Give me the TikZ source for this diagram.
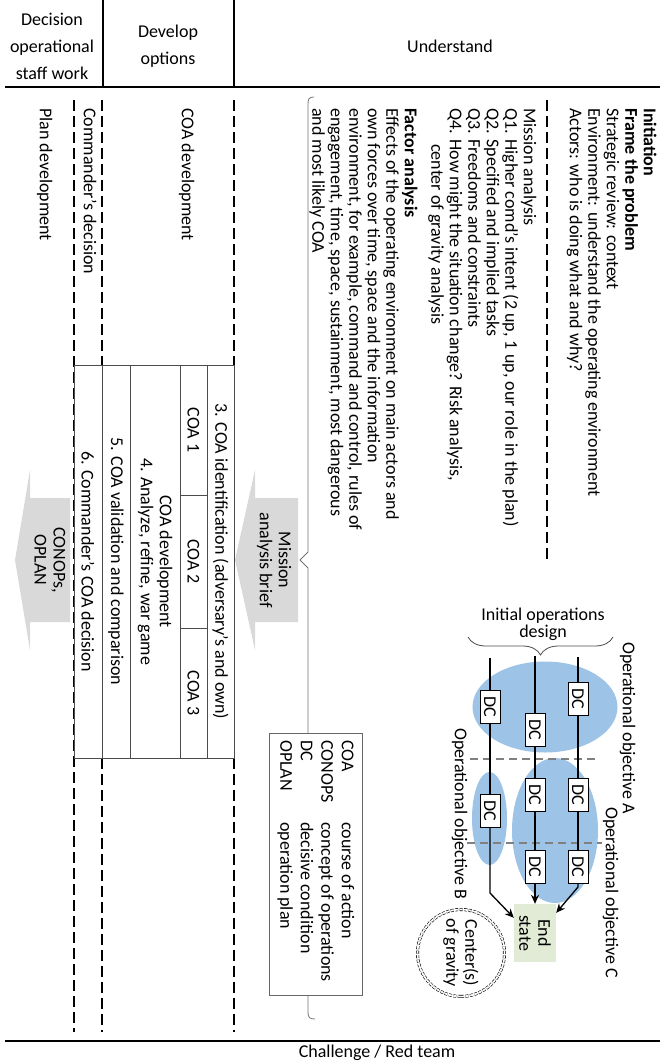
\documentclass[tikz,border=0pt]{standalone}
\usepackage{fontspec}
\setmainfont{Carlito}
\usetikzlibrary{arrows.meta,decorations.pathreplacing,calc}
\definecolor{objblue}{HTML}{9DC3E6}
\definecolor{esgreen}{HTML}{E2EBD6}
\definecolor{arrowgray}{HTML}{D9D9D9}
\definecolor{dashgray}{HTML}{808080}
\newcommand\myfs{\fontsize{18}{19}\selectfont}
\newcommand\myhfs{\fontsize{18}{27}\selectfont}
\begin{document}
\begin{tikzpicture}[x=1pt,y=-1pt,
  rt/.style={rotate=-90, anchor=west, inner sep=0pt, font=\myfs, text height=12.5pt, text depth=4pt},
  rc/.style={rotate=-90, anchor=center, inner sep=0pt, font=\myfs, align=center},
  hdr/.style={font=\myhfs, align=center, inner sep=0pt},
  dashv/.style={line width=1.4pt, dash pattern=on 11pt off 5pt},
  tbl/.style={draw=black!70, line width=0.7pt},
  graybr/.style={draw=black!55, line width=0.8pt},
  dcbox/.style={draw, fill=white, rotate=-90, minimum width=33pt, minimum height=20pt, inner sep=0pt, font=\myfs, line width=0.9pt},
  flow/.style={line width=1.3pt},
  flowarr/.style={line width=1.3pt, -{Stealth[length=9pt,width=8pt]}},
  sepdash/.style={draw=dashgray, line width=1.6pt, dash pattern=on 8pt off 5pt},
]
\useasboundingbox (0,0) rectangle (660,1064);

% ---------- header ----------
\coordinate (hl0) at (5,87); \coordinate (hl1) at (660,87);
\draw[line width=2.5pt] (hl0) -- (hl1);
\coordinate (hv1a) at (103,0); \coordinate (hv1b) at (103,87);
\coordinate (hv2a) at (234,0); \coordinate (hv2b) at (234,87);
\draw[line width=1.6pt] (hv1a) -- (hv1b);
\draw[line width=1.6pt] (hv2a) -- (hv2b);
\node[hdr] (h1) at (52,46) {Decision\\operational\\staff work};
\node[hdr] (h2) at (168,46) {Develop\\options};
\node[hdr] (h3) at (450,46) {Understand};

% ---------- bottom ----------
\coordinate (bl0) at (5,1041); \coordinate (bl1) at (660,1041);
\draw[line width=2.5pt] (bl0) -- (bl1);
\node[font=\myfs, inner sep=0pt] (red) at (377,1053) {Challenge / Red team};

% ---------- dashed column lines ----------
\draw[dashv] (74,100) -- (74,1032);
\draw[dashv] (102,100) -- (102,365);
\draw[dashv] (102,758) -- (102,1032);
\draw[dashv] (234,100) -- (234,365);
\draw[dashv] (234,758) -- (234,1032);
\draw[dashv] (547,100) -- (547,562);

% ---------- left column labels ----------
\node[rt] (pd) at (44,108) {Plan development};
\node[rt] (cd) at (88,108) {Commander’s decision};
\node[rt] (cdev) at (186,108) {COA development};

% ---------- COA table ----------
\draw[tbl] (74,365) rectangle (234,758);
\foreach \x in {102,130,180,207} \draw[tbl] (\x,365) -- (\x,758);
\draw[tbl] (180,495) -- (207,495);
\draw[tbl] (180,628) -- (207,628);
\node[rc] (t3) at (220.5,561.5) {3. COA identification (adversary’s and own)};
\node[rc] (coa1) at (193.5,430) {COA 1};
\node[rc] (coa2) at (193.5,561.5) {COA 2};
\node[rc] (coa3) at (193.5,693) {COA 3};
\node[rc] (t4) at (155,561.5) {COA development\\4. Analyze, refine, war game};
\node[rc] (t5) at (116,561.5) {5. COA validation and comparison};
\node[rc] (t6) at (88,561.5) {6. Commander’s COA decision};

% ---------- block arrows ----------
\fill[arrowgray] (298,498) -- (255,498) -- (255,470) -- (235,560) -- (255,650) -- (255,622) -- (298,622) -- cycle;
\node[rc] (mab) at (274,560) {Mission\\analysis brief};
\fill[arrowgray] (70,498) -- (30,498) -- (30,470) -- (15,560) -- (30,650) -- (30,622) -- (70,622) -- cycle;
\node[rc] (conops) at (50,560) {CONOPs,\\OPLAN};

% ---------- understand brace ----------
\draw[graybr] (314,97) .. controls (309,97) and (308,99) .. (308,104) -- (308,552) -- (300,560) -- (308,568) -- (308,1012) .. controls (308,1017) and (309,1019) .. (315,1019);

% ---------- understand text ----------
\node[rt] (u1) at (648,108) {\textbf{Initiation}};
\node[rt] (u2) at (629.5,108) {\textbf{Frame the problem}};
\node[rt] (u3) at (611,108) {Strategic review: context};
\node[rt] (u4) at (592.5,108) {Environment: understand the operating environment};
\node[rt] (u5) at (574,108) {Actors: who is doing what and why?};
\node[rt] (u6) at (528,108) {Mission analysis};
\node[rt] (u7) at (509.5,108) {Q1. Higher comd’s intent (2 up, 1 up, our role in the plan)};
\node[rt] (u8) at (491,108) {Q2. Specified and implied tasks};
\node[rt] (u9) at (472.5,108) {Q3. Freedoms and constraints};
\node[rt] (u10) at (454,108) {Q4. How might the situation change? Risk analysis,};
\node[rt] (u11) at (435.5,144) {center of gravity analysis};
\node[rt] (u12) at (409,108) {\textbf{Factor analysis}};
\node[rt] (u13) at (390.5,108) {Effects of the operating environment on main actors and};
\node[rt] (u14) at (372,108) {own forces over time, space and the information};
\node[rt] (u15) at (353.5,108) {environment, for example, command and control, rules of};
\node[rt] (u16) at (335,108) {engagement, time, space, sustainment, most dangerous};
\node[rt] (u17) at (316.5,108) {and most likely COA};

% ---------- legend ----------
\node[draw=black!60, line width=0.8pt, fill=white, minimum width=93pt, minimum height=262pt, inner sep=0pt] (legend) at (315.5,864) {};
\node[rt] (lg1) at (346,740) {COA};
\node[rt] (lg2) at (325.5,740) {CONOPS};
\node[rt] (lg3) at (305,740) {DC};
\node[rt] (lg4) at (284.5,740) {OPLAN};
\node[rt] (ld1) at (346,822) {course of action};
\node[rt] (ld2) at (325.5,822) {concept of operations};
\node[rt] (ld3) at (305,822) {decisive condition};
\node[rt] (ld4) at (284.5,822) {operation plan};

% ---------- operational design ----------
\fill[objblue] (545,707) ellipse [x radius=72.5pt, y radius=45.5pt];
\fill[objblue] (555,830.5) ellipse [x radius=43pt, y radius=72.5pt];
\fill[objblue] (489.5,818.5) ellipse [x radius=17.5pt, y radius=46.5pt];
\draw[sepdash] (470,759) -- (597,759);
\draw[sepdash] (467,843) -- (602,843);

\node[font={\fontsize{18}{17}\selectfont}, align=center, inner sep=0pt] (iod) at (543,624) {Initial operations\\design};
\draw[decorate, decoration={brace, amplitude=18pt, mirror}, draw=black!70, line width=0.8pt] (468,637) -- (613,637);

\coordinate (ltop) at (490,658);
\coordinate (mtop) at (535,656);
\coordinate (rtop) at (578,657);
\coordinate (lb) at (490,893);
\coordinate (rb) at (578,887);

\node[dcbox] (dl1) at (490,706.5) {DC};
\node[dcbox] (dl2) at (490,811) {DC};
\node[dcbox] (dm1) at (535,729.5) {DC};
\node[dcbox] (dm2) at (535,795) {DC};
\node[dcbox] (dm3) at (535,866.5) {DC};
\node[dcbox] (dr1) at (578,699) {DC};
\node[dcbox] (dr2) at (578,795) {DC};
\node[dcbox] (dr3) at (578,866.5) {DC};

\node[rotate=-90, fill=esgreen, minimum width=58pt, minimum height=42pt, inner sep=0pt, font=\myfs, align=center] (es) at (535,933) {End\\state};

\draw[flow] (ltop) -- (dl1);
\draw[flow] (dl1) -- (dl2);
\draw[flowarr] (dl2) -- (lb) -- ($(es.south west)+(0,14)$);
\draw[flow] (mtop) -- (dm1);
\draw[flow] (dm1) -- (dm2);
\draw[flow] (dm2) -- (dm3);
\draw[flowarr] (dm3) -- (es);
\draw[flow] (rtop) -- (dr1);
\draw[flow] (dr1) -- (dr2);
\draw[flow] (dr2) -- (dr3);
\draw[flowarr] (dr3) -- (rb) -- ($(es.north west)+(0,9)$);

\node[rt] (objA) at (627,642) {Operational objective A};
\node[rt] (objC) at (610,807) {Operational objective C};
\node[rt] (objB) at (459,728) {Operational objective B};

\node[circle, draw, double, double distance=1.8pt, line width=0.6pt, dash pattern=on 3pt off 1.5pt, minimum size=87pt, inner sep=0pt, rotate=-90, font=\myfs, align=center] (cog) at (461,953) {Center(s)\\of gravity};

\end{tikzpicture}
\end{document}
